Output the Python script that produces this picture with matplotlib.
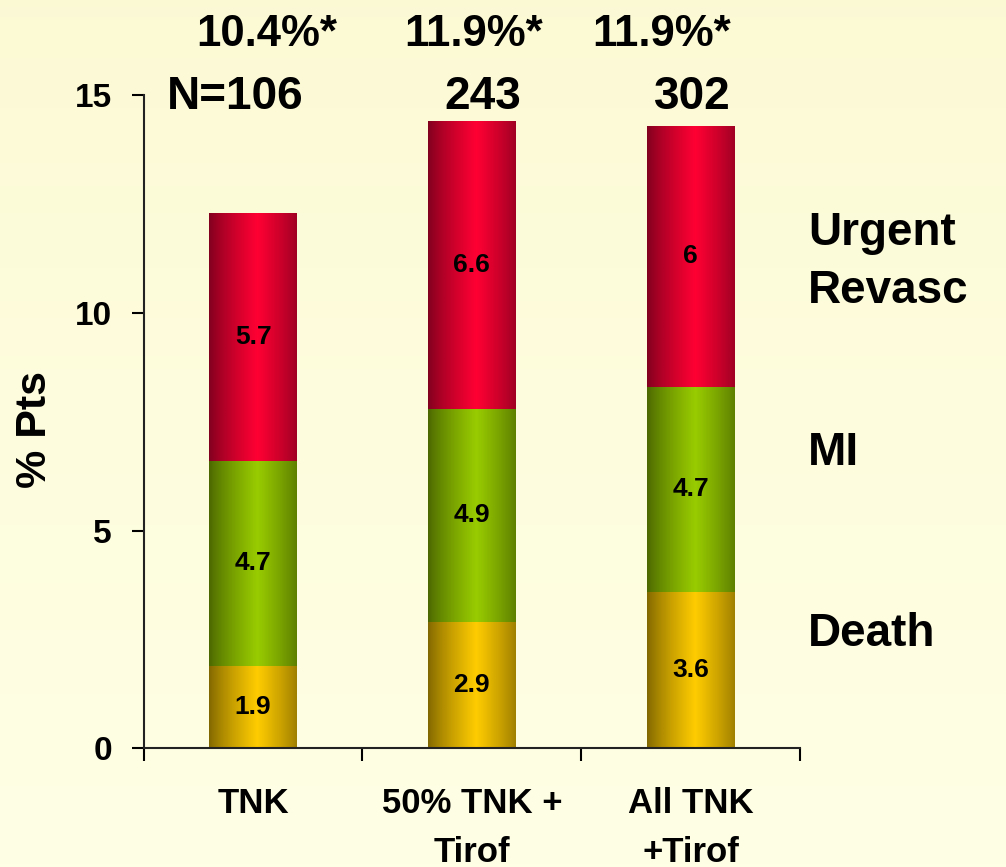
import numpy as np
import matplotlib.pyplot as plt
from matplotlib.colors import LinearSegmentedColormap

plt.rcParams['font.family'] = ['Liberation Sans', 'DejaVu Sans']
plt.rcParams['font.weight'] = 'bold'

# data
categories = ['TNK', '50% TNK +\nTirof', 'All TNK\n+Tirof']
death = [1.9, 2.9, 3.6]
mi = [4.7, 4.9, 4.7]
revasc = [5.7, 6.6, 6.0]
totals_pct = ['10.4%*', '11.9%*', '11.9%*']
n_labels = ['N=106', '243', '302']
series_names = ['Death', 'MI', 'Urgent\nRevasc']

# cylinder-like shading for each series (edge, centre)
shades = {
    'Death': ((0.50, 0.40, 0.0), (1.0, 0.80, 0.0)),
    'MI': ((0.29, 0.40, 0.0), (0.60, 0.80, 0.0)),
    'Urgent\nRevasc': ((0.50, 0.0, 0.12), (1.0, 0.0, 0.20)),
}

fig = plt.figure(figsize=(10.06, 8.67), dpi=100)

# soft yellow page background
bg = fig.add_axes([0, 0, 1, 1], zorder=-10)
grad = np.linspace(0, 1, 256).reshape(-1, 1)
bg_cmap = LinearSegmentedColormap.from_list('bg', [(0.988, 0.980, 0.835), (1.0, 1.0, 0.90)])
bg.imshow(grad, aspect='auto', cmap=bg_cmap, extent=[0, 1, 0, 1])
bg.set_axis_off()

ax = fig.add_axes([0.143, 0.137, 0.652, 0.753])
ax.patch.set_alpha(0)

x = np.arange(len(categories))
width = 0.4
bottom = np.zeros(len(categories))
hgrad = np.linspace(0, 1, 200)
profile = np.clip(1 - np.abs(hgrad - 0.55) / 0.55, 0, 1) ** 0.8
profile = profile.reshape(1, -1)

for name, vals in zip(series_names, [death, mi, revasc]):
    edge, centre = shades[name]
    cmap = LinearSegmentedColormap.from_list(name, [edge, centre])
    bars = ax.bar(x, vals, width, bottom=bottom, color='none', edgecolor='none')
    for rect, v, b in zip(bars, vals, bottom):
        x0 = rect.get_x()
        im = ax.imshow(profile, aspect='auto', cmap=cmap, vmin=0, vmax=1,
                       extent=[x0, x0 + rect.get_width(), b, b + v], zorder=2)
        im.set_clip_path(rect)
        ax.text(rect.get_x() + rect.get_width() / 2, b + v / 2, f'{v:g}',
                ha='center', va='center', fontsize=19, zorder=3)
    bottom = bottom + np.array(vals)

ax.set_xlim(-0.5, 2.5)
ax.set_ylim(0, 15)
ax.set_yticks([0, 5, 10, 15])
ax.tick_params(axis='y', labelsize=24, length=9, width=1.5, direction='out', pad=14)
ax.set_xticks([-0.5, 0.5, 1.5, 2.5])
ax.set_xticklabels([])
ax.tick_params(axis='x', which='major', length=9, width=1.5, direction='out')
ax.set_xticks(x, minor=True)
ax.set_xticklabels(categories, minor=True, fontsize=25, linespacing=1.6)
ax.tick_params(axis='x', which='minor', length=0, pad=28)
for s in ['top', 'right']:
    ax.spines[s].set_visible(False)
for s in ['left', 'bottom']:
    ax.spines[s].set_linewidth(1.5)
    ax.spines[s].set_color('#222222')

fig.text(35 / 1006, 1 - 430 / 867, '% Pts', rotation=90, ha='center', va='center', fontsize=31)

# percentages and N above bars
pct_x = [0.064, 1.01, 1.87]
n_x = [-0.08, 1.05, 2.01]
for px, t in zip(pct_x, totals_pct):
    ax.text(px, 16.4, t, ha='center', va='center', fontsize=31.5, clip_on=False)
for nx, t in zip(n_x, n_labels):
    ax.text(nx, 14.97, t, ha='center', va='center', fontsize=33, clip_on=False)

# series names on the right
ax.text(2.537, 11.17, series_names[2], ha='left', va='center', fontsize=33,
        linespacing=1.42, clip_on=False)
ax.text(2.537, 6.78, series_names[1], ha='left', va='center', fontsize=33, clip_on=False)
ax.text(2.537, 2.62, series_names[0], ha='left', va='center', fontsize=33, clip_on=False)

fig.savefig('out.png', dpi=100)
